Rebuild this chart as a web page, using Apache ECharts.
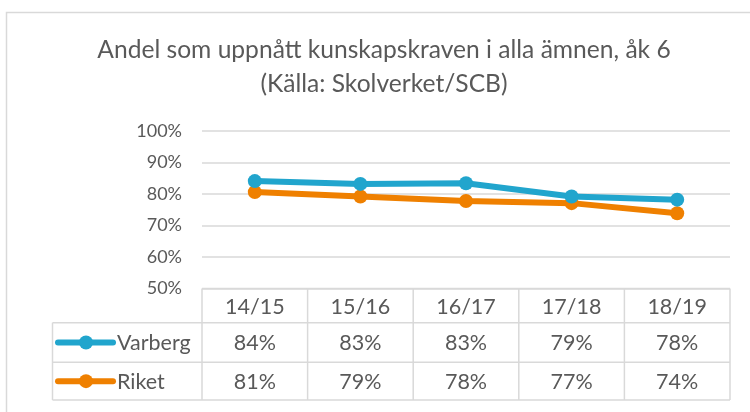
<!DOCTYPE html>
<html>
<head>
<meta charset="utf-8">
<script src="https://cdn.jsdelivr.net/npm/echarts@6/dist/echarts.min.js"></script>
<style>
html,body{margin:0;padding:0;background:#fff;}
#c{width:750px;height:412px;}
</style>
</head>
<body>
<div id="c"></div>
<script>
const titleLines = ['Andel som uppnått kunskapskraven i alla ämnen, åk 6', '(Källa: Skolverket/SCB)'];
const categories = ['14/15', '15/16', '16/17', '17/18', '18/19'];
const seriesNames = ['Varberg', 'Riket'];
const varberg = [84.1, 83.2, 83.4, 79.2, 78.2];
const riket = [80.6, 79.2, 77.8, 77.1, 73.9];
const yMin = 50, yMax = 100, yStep = 10;

const FONT = 'Lato';
const TXT = '#595959';
const GRID = '#d9d9d9';
const colors = ['#21a5cd', '#ef8000'];
const seriesData = [varberg, riket];

const gridL = 202, gridR = 20, gridT = 131, gridB = 412 - 288.5;

const chart = echarts.init(document.getElementById('c'), null, {renderer: 'canvas'});
chart.setOption({
  animation: false,
  title: {
    text: titleLines.join('\n'),
    left: 379, top: 28, textAlign: 'center',
    textStyle: {fontFamily: FONT, fontSize: 24.6, fontWeight: 'normal', color: TXT, lineHeight: 34}
  },
  grid: {left: gridL, right: gridR, top: gridT, bottom: gridB},
  xAxis: {
    type: 'category', data: categories, boundaryGap: true,
    axisLine: {show: false}, axisTick: {show: false}, axisLabel: {show: false}
  },
  yAxis: {
    type: 'value', min: yMin, max: yMax, interval: yStep,
    axisLine: {show: false}, axisTick: {show: false},
    axisLabel: {formatter: '{value}%', fontFamily: FONT, fontSize: 18, color: TXT, margin: 20},
    splitLine: {lineStyle: {color: GRID, width: 1.5}}
  },
  series: seriesNames.map((n, i) => ({
    name: n, type: 'line', data: seriesData[i],
    symbol: 'circle', symbolSize: 14,
    lineStyle: {color: colors[i], width: 6},
    itemStyle: {color: colors[i]},
    z: 10 - i
  }))
});

// Data table
const g = [];
const rowY = [288.5, 322.7, 362.3, 400];
const tableLeft = 52.5;
const x0 = chart.convertToPixel({xAxisIndex: 0}, 0);
const x1 = chart.convertToPixel({xAxisIndex: 0}, 1);
const colW = x1 - x0;
const colEdges = [];
for (let k = 0; k <= categories.length; k++) colEdges.push(x0 - colW / 2 + k * colW);
const right = colEdges[colEdges.length - 1];
const ls = {stroke: GRID, lineWidth: 1.5};
g.push({type: 'line', shape: {x1: colEdges[0], y1: rowY[0], x2: right, y2: rowY[0]}, style: ls});
for (let r = 1; r < rowY.length; r++) {
  g.push({type: 'line', shape: {x1: tableLeft, y1: rowY[r], x2: right, y2: rowY[r]}, style: ls});
}
g.push({type: 'line', shape: {x1: tableLeft, y1: rowY[1], x2: tableLeft, y2: rowY[3]}, style: ls});
colEdges.forEach(x => g.push({type: 'line', shape: {x1: x, y1: rowY[0], x2: x, y2: rowY[3]}, style: ls}));

const tfont = {fontFamily: FONT, fontSize: 21.5, fill: TXT};
categories.forEach((c, i) => {
  const cx = chart.convertToPixel({xAxisIndex: 0}, i);
  g.push({type: 'text', x: cx, y: (rowY[0] + rowY[1]) / 2 + 1, style: Object.assign({text: c, align: 'center', verticalAlign: 'middle'}, tfont)});
  seriesData.forEach((arr, s) => {
    g.push({type: 'text', x: cx, y: (rowY[s + 1] + rowY[s + 2]) / 2 + 1,
      style: Object.assign({text: Math.round(arr[i]) + '%', align: 'center', verticalAlign: 'middle'}, tfont)});
  });
});
seriesNames.forEach((n, s) => {
  const cy = (rowY[s + 1] + rowY[s + 2]) / 2;
  g.push({type: 'line', shape: {x1: 58, y1: cy, x2: 113, y2: cy}, style: {stroke: colors[s], lineWidth: 6, lineCap: 'round'}});
  g.push({type: 'circle', shape: {cx: 86, cy: cy, r: 7}, style: {fill: colors[s]}});
  g.push({type: 'text', x: 117, y: cy + 1, style: Object.assign({text: n, align: 'left', verticalAlign: 'middle'}, tfont)});
});
// chart area border
g.push({type: 'rect', shape: {x: 6.5, y: 12.5, width: 800, height: 500}, style: {fill: 'none', stroke: GRID, lineWidth: 1.5}, silent: true});
chart.setOption({graphic: {elements: g}});
</script>
</body>
</html>
